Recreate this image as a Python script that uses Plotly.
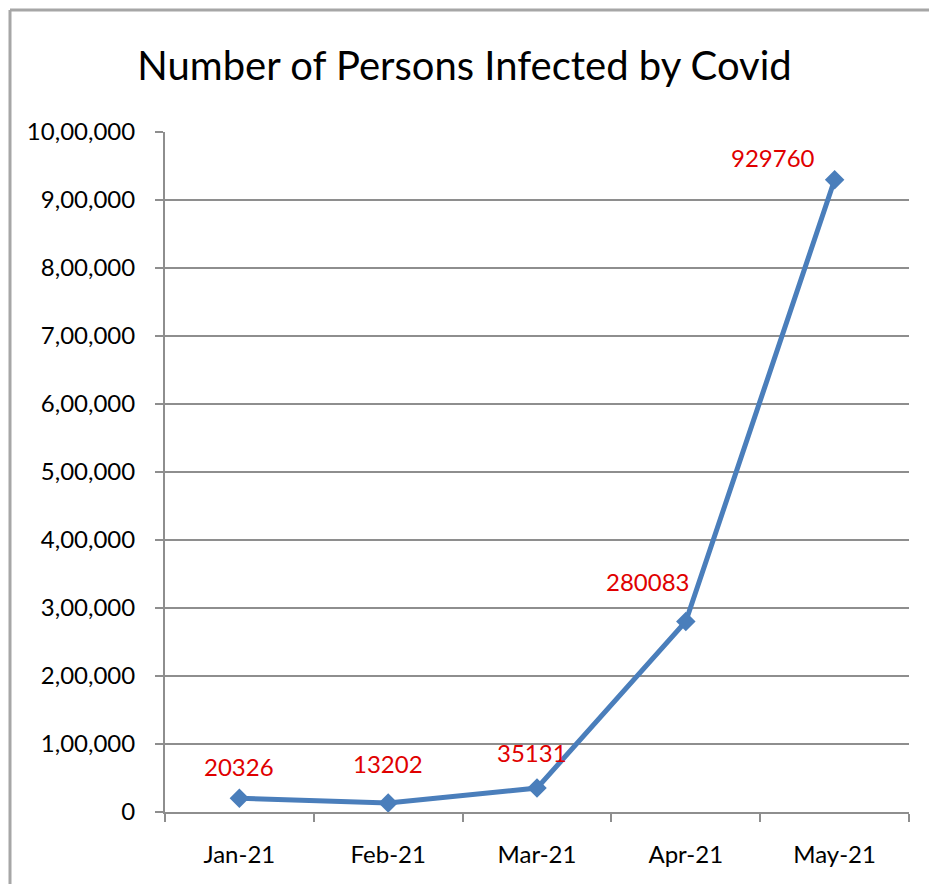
import plotly.graph_objects as go

months = ["Jan-21", "Feb-21", "Mar-21", "Apr-21", "May-21"]
infected = [20326, 13202, 35131, 280083, 929760]
y_tick_vals = [0, 100000, 200000, 300000, 400000, 500000, 600000, 700000, 800000, 900000, 1000000]
y_tick_text = ["0", "1,00,000", "2,00,000", "3,00,000", "4,00,000", "5,00,000",
               "6,00,000", "7,00,000", "8,00,000", "9,00,000", "10,00,000"]
label_shift_x = [0, 0, -5, -38, -62]
label_shift_y = [32, 40, 36, 40, 22]

W, H = 929, 884
ml, mr, mt, mb = 165, 20, 132, 72
font_family = "Lato, 'Open Sans', sans-serif"
grid = "#8e8e8e"

fig = go.Figure()
fig.add_trace(go.Scatter(
    x=months, y=infected, mode="lines+markers",
    line=dict(color="#4a7ebb", width=5),
    marker=dict(symbol="diamond", size=15, color="#4a7ebb"),
    hoverinfo="x+y", showlegend=False,
))

for m, v, sx, sy in zip(months, infected, label_shift_x, label_shift_y):
    fig.add_annotation(x=m, y=v, text=str(v), showarrow=False,
                       xshift=sx, yshift=sy,
                       font=dict(family=font_family, size=24, color="#e00000"))

# outer frame (screenshot border)
pw = W - ml - mr
ph = H - mt - mb
fx = (10 - ml) / pw
fy = 1 + (mt - 10) / ph
fig.add_shape(type="line", xref="paper", yref="paper", x0=fx, x1=fx, y0=-mb / ph, y1=fy,
              line=dict(color="#a6a6a6", width=3))
fig.add_shape(type="line", xref="paper", yref="paper", x0=fx, x1=1 + mr / pw, y0=fy, y1=fy,
              line=dict(color="#a6a6a6", width=3))

fig.update_layout(
    width=W, height=H,
    margin=dict(l=ml, r=mr, t=mt, b=mb),
    paper_bgcolor="white", plot_bgcolor="white",
    title=dict(text="Number of Persons Infected by Covid", x=0.5, xanchor="center",
               y=1 - 66 / H, yanchor="middle",
               font=dict(family=font_family, size=40, color="black")),
    font=dict(family=font_family, color="black"),
)
fig.update_xaxes(
    type="category", range=[-0.5, 4.5],
    showgrid=False, showline=True, linecolor=grid, linewidth=2,
    ticks="outside", tickson="boundaries", ticklen=8, tickcolor=grid, tickwidth=2,
    ticklabelstandoff=20,
    tickfont=dict(size=24, family=font_family, color="black"),
)
fig.update_yaxes(
    range=[0, 1000000], tickvals=y_tick_vals, ticktext=y_tick_text,
    showgrid=True, gridcolor=grid, gridwidth=2,
    showline=True, linecolor=grid, linewidth=2,
    ticks="outside", ticklen=8, tickcolor=grid, tickwidth=2,
    ticklabelstandoff=15,
    tickfont=dict(size=24, family=font_family, color="black"),
    zeroline=False,
)

fig.write_html("out.html")
